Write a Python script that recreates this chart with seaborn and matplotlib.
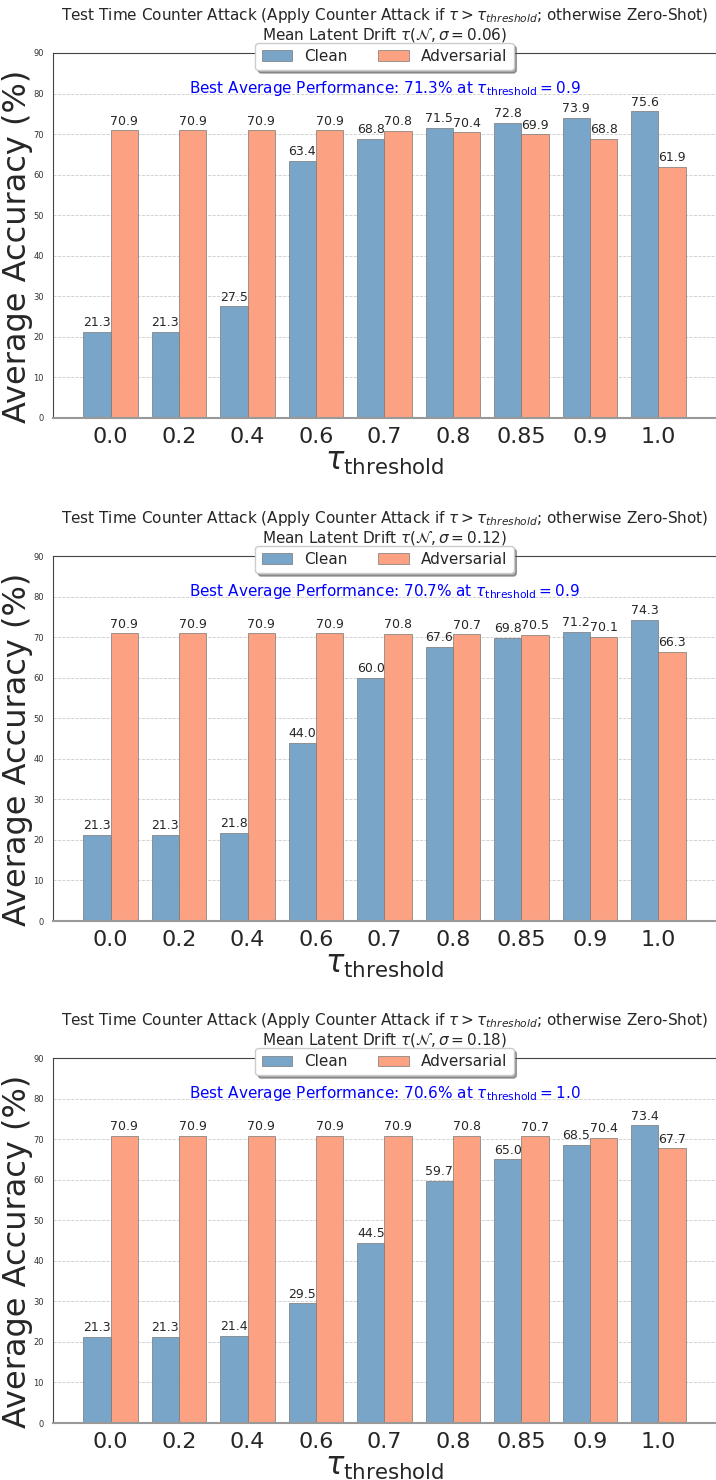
import numpy as np
import pandas as pd
import seaborn as sns
import matplotlib.pyplot as plt

# thresholds on the x axis
thresholds = ['0.0', '0.2', '0.4', '0.6', '0.7', '0.8', '0.85', '0.9', '1.0']

# one entry per panel: sigma, clean accuracy, adversarial accuracy, best avg, best threshold
sigmas = ['0.06', '0.12', '0.18']
clean_006 = [21.3, 21.3, 27.5, 63.4, 68.8, 71.5, 72.8, 73.9, 75.6]
adv_006 = [70.9, 70.9, 70.9, 70.9, 70.8, 70.4, 69.9, 68.8, 61.9]
clean_012 = [21.3, 21.3, 21.8, 44.0, 60.0, 67.6, 69.8, 71.2, 74.3]
adv_012 = [70.9, 70.9, 70.9, 70.9, 70.8, 70.7, 70.5, 70.1, 66.3]
clean_018 = [21.3, 21.3, 21.4, 29.5, 44.5, 59.7, 65.0, 68.5, 73.4]
adv_018 = [70.9, 70.9, 70.9, 70.9, 70.9, 70.8, 70.7, 70.4, 67.7]
best_avg = [71.3, 70.7, 70.6]
best_thr = ['0.9', '0.9', '1.0']

clean_all = [clean_006, clean_012, clean_018]
adv_all = [adv_006, adv_012, adv_018]

sns.set_style('white')
palette = {'Clean': '#79a5c9', 'Adversarial': '#fca283'}

fig = plt.figure(figsize=(7.16, 14.8), dpi=100)
boxes = [[0.074, 0.7176, 0.926, 0.2466],
         [0.074, 0.3777, 0.926, 0.2466],
         [0.074, 0.0385, 0.926, 0.2466]]

for i in range(3):
    ax = fig.add_axes(boxes[i])
    df = pd.DataFrame({
        'threshold': thresholds * 2,
        'accuracy': clean_all[i] + adv_all[i],
        'type': ['Clean'] * len(thresholds) + ['Adversarial'] * len(thresholds),
    })
    sns.barplot(data=df, x='threshold', y='accuracy', hue='type', palette=palette,
                order=thresholds, hue_order=['Clean', 'Adversarial'],
                width=0.8, saturation=1, edgecolor='#777777', linewidth=0.5, ax=ax)

    for cont in ax.containers:
        ax.bar_label(cont, fmt='%.1f', fontsize=9, padding=2)

    ax.set_xlim(-0.84, 8.84)
    ax.set_ylim(0, 90)
    ax.set_yticks(np.arange(0, 91, 10))
    ax.tick_params(axis='y', labelsize=6, length=3, width=0.6, colors='#333333')
    ax.tick_params(axis='x', labelsize=16, length=3, width=0.6)
    ax.yaxis.grid(True, linestyle='--', linewidth=0.6, color='#cccccc')
    ax.set_axisbelow(True)

    ax.spines['right'].set_visible(False)
    ax.spines['top'].set_color('#444444')
    ax.spines['left'].set_color('#444444')
    ax.spines['bottom'].set_color('#999999')
    ax.spines['bottom'].set_linewidth(1.5)

    ax.set_ylabel('Average Accuracy (%)', fontsize=23)
    ax.yaxis.set_label_coords(-0.030, 0.47)
    ax.set_xlabel(r'$\tau_{\rm threshold}$', fontsize=22, labelpad=1)
    ax.set_title(r'Test Time Counter Attack (Apply Counter Attack if $\tau > \tau_{threshold}$; otherwise Zero-Shot)'
                 + '\n' + r'Mean Latent Drift $\tau(\mathcal{N}, \sigma = %s)$' % sigmas[i],
                 fontsize=11, pad=10, linespacing=1.05)

    ax.text(0.5, 81.3, r'Best Average Performance: %.1f%% at $\tau_{\rm threshold} = %s$' % (best_avg[i], best_thr[i]),
            transform=ax.get_yaxis_transform(), ha='center', va='center', color='blue', fontsize=11)

    ax.legend(loc='center', bbox_to_anchor=(0.5, 0.99), ncol=2, fontsize=11,
              frameon=True, shadow=True, fancybox=True, handlelength=2.0, columnspacing=2)

fig.savefig('out.png', dpi=100)
